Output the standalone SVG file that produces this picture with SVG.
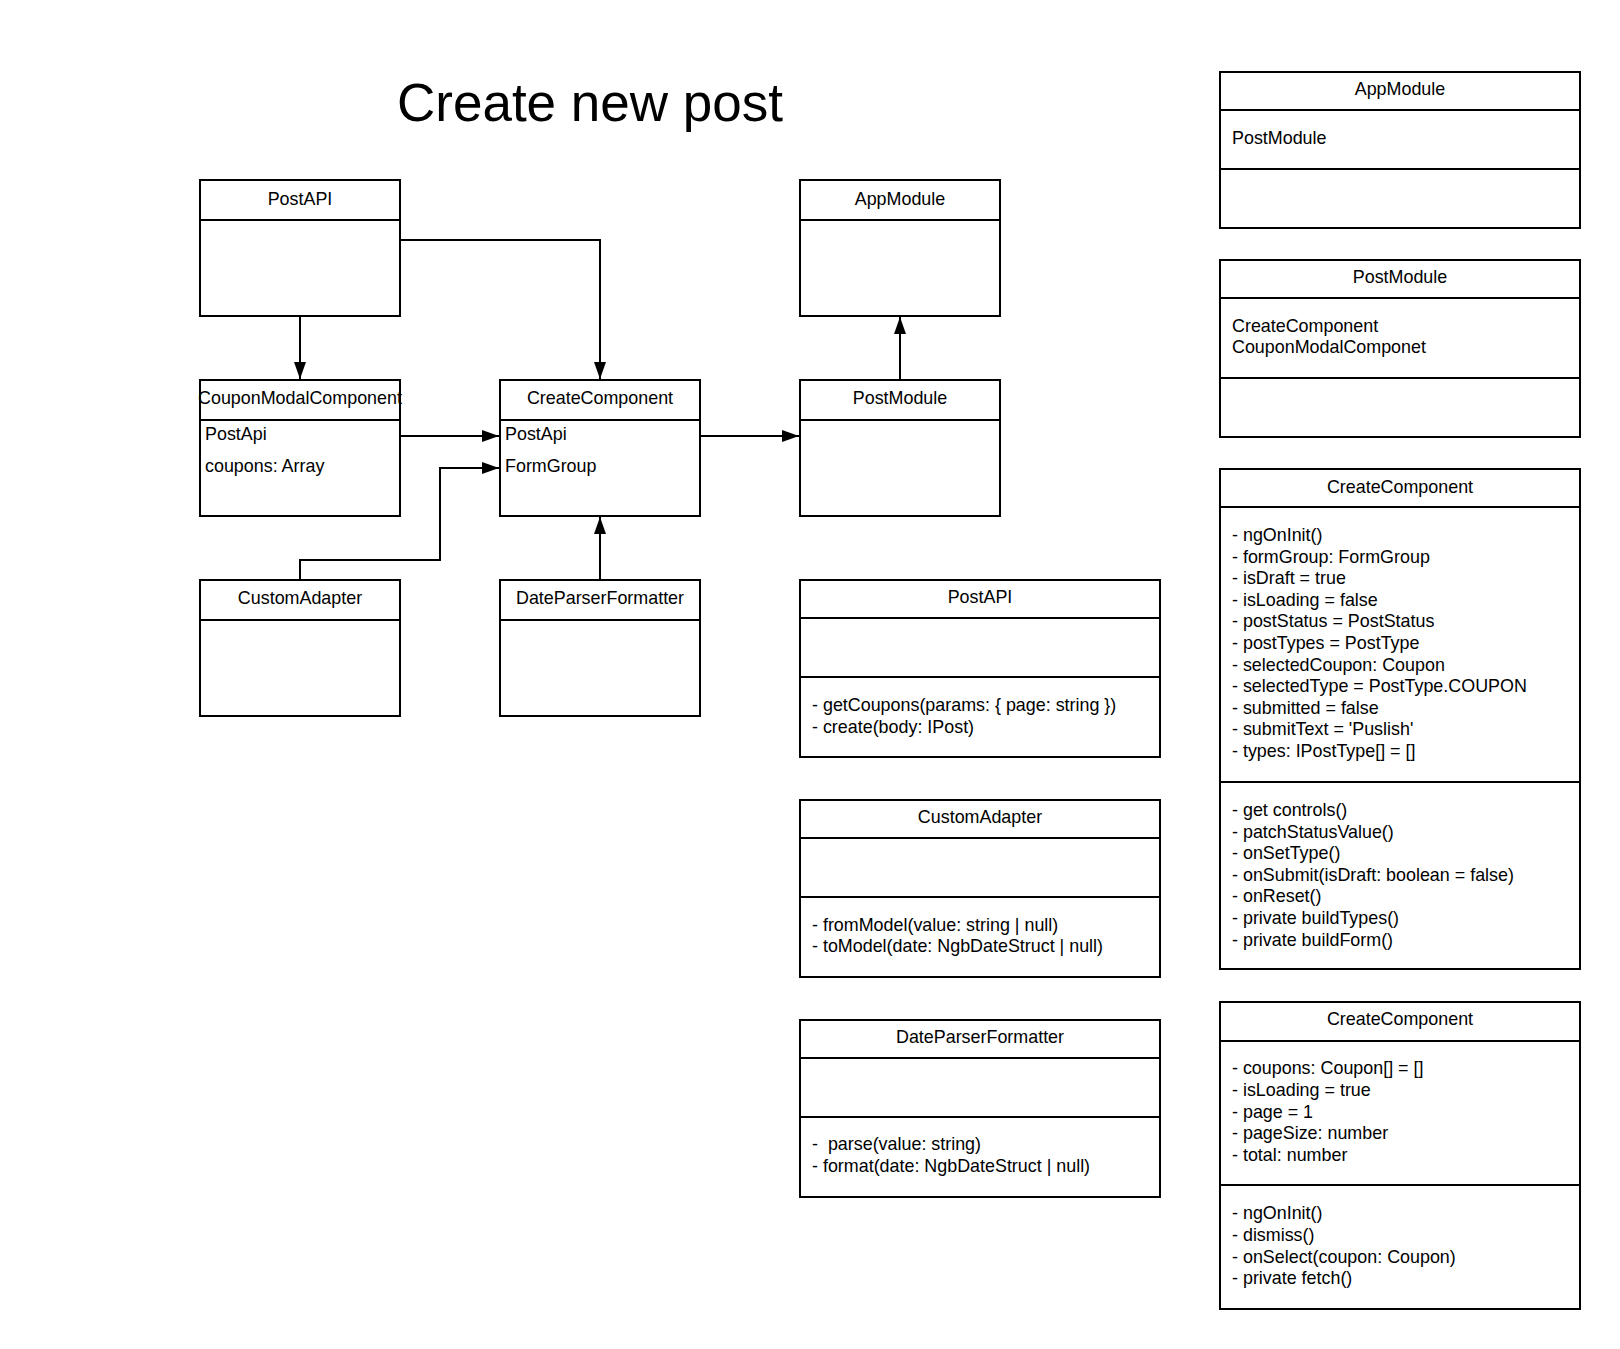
<svg xmlns="http://www.w3.org/2000/svg" width="1620" height="1349" viewBox="0 0 1620 1349">
<style>
.box{fill:#fff;stroke:#000;stroke-width:2}
.div{stroke:#000;stroke-width:2}
.t{font-family:"Liberation Sans",Arial,sans-serif;font-size:17.9px;fill:#000}
.c{text-anchor:middle}
.title{font-family:"Liberation Sans",Arial,sans-serif;font-size:53px;fill:#000}
.con{fill:none;stroke:#000;stroke-width:2}
</style>
<defs>
<marker id="arr" markerUnits="userSpaceOnUse" markerWidth="18" markerHeight="12" refX="17" refY="6" orient="auto">
<path d="M0,0 L17,6 L0,12 Z" fill="#000"/>
</marker>
</defs>
<rect width="1620" height="1349" fill="#fff"/>
<text class="title" x="397" y="121">Create new post</text>

<g id="connectors">
<path class="con" d="M300,316 V379" marker-end="url(#arr)"/>
<path class="con" d="M400,240 H600 V379" marker-end="url(#arr)"/>
<path class="con" d="M400,436 H499" marker-end="url(#arr)"/>
<path class="con" d="M300,580 V560 H440 V468 H499" marker-end="url(#arr)"/>
<path class="con" d="M600,580 V517" marker-end="url(#arr)"/>
<path class="con" d="M700,436 H799" marker-end="url(#arr)"/>
<path class="con" d="M900,380 V317" marker-end="url(#arr)"/>
</g>

<g id="postapi-left">
<rect class="box" x="200" y="180" width="200" height="136"/>
<line class="div" x1="200" y1="220" x2="400" y2="220"/>
<text class="t c" x="300" y="205">PostAPI</text>
</g>

<g id="couponmodal-left">
<rect class="box" x="200" y="380" width="200" height="136"/>
<line class="div" x1="200" y1="420" x2="400" y2="420"/>
<text class="t c" x="300" y="404">CouponModalComponent</text>
<text class="t" x="205" y="440">PostApi</text>
<text class="t" x="205" y="472">coupons: Array</text>
</g>

<g id="createcomponent-left">
<rect class="box" x="500" y="380" width="200" height="136"/>
<line class="div" x1="500" y1="420" x2="700" y2="420"/>
<text class="t c" x="600" y="404">CreateComponent</text>
<text class="t" x="505" y="440">PostApi</text>
<text class="t" x="505" y="472">FormGroup</text>
</g>

<g id="customadapter-left">
<rect class="box" x="200" y="580" width="200" height="136"/>
<line class="div" x1="200" y1="620" x2="400" y2="620"/>
<text class="t c" x="300" y="604">CustomAdapter</text>
</g>

<g id="dateparser-left">
<rect class="box" x="500" y="580" width="200" height="136"/>
<line class="div" x1="500" y1="620" x2="700" y2="620"/>
<text class="t c" x="600" y="604">DateParserFormatter</text>
</g>

<g id="appmodule-mid">
<rect class="box" x="800" y="180" width="200" height="136"/>
<line class="div" x1="800" y1="220" x2="1000" y2="220"/>
<text class="t c" x="900" y="205">AppModule</text>
</g>

<g id="postmodule-mid">
<rect class="box" x="800" y="380" width="200" height="136"/>
<line class="div" x1="800" y1="420" x2="1000" y2="420"/>
<text class="t c" x="900" y="404">PostModule</text>
</g>

<g id="postapi-detail">
<rect class="box" x="800" y="580" width="360" height="177"/>
<line class="div" x1="800" y1="618" x2="1160" y2="618"/>
<line class="div" x1="800" y1="677" x2="1160" y2="677"/>
<text class="t c" x="980" y="603">PostAPI</text>
<text class="t" x="812" y="711">- getCoupons(params: { page: string })</text>
<text class="t" x="812" y="732.6">- create(body: IPost)</text>
</g>

<g id="customadapter-detail">
<rect class="box" x="800" y="800" width="360" height="177"/>
<line class="div" x1="800" y1="838" x2="1160" y2="838"/>
<line class="div" x1="800" y1="897" x2="1160" y2="897"/>
<text class="t c" x="980" y="823">CustomAdapter</text>
<text class="t" x="812" y="930.5">- fromModel(value: string | null)</text>
<text class="t" x="812" y="952.1">- toModel(date: NgbDateStruct | null)</text>
</g>

<g id="dateparser-detail">
<rect class="box" x="800" y="1020" width="360" height="177"/>
<line class="div" x1="800" y1="1058" x2="1160" y2="1058"/>
<line class="div" x1="800" y1="1117" x2="1160" y2="1117"/>
<text class="t c" x="980" y="1043">DateParserFormatter</text>
<text class="t" x="812" y="1150" xml:space="preserve">-  parse(value: string)</text>
<text class="t" x="812" y="1171.6">- format(date: NgbDateStruct | null)</text>
</g>

<g id="appmodule-detail">
<rect class="box" x="1220" y="72" width="360" height="156"/>
<line class="div" x1="1220" y1="110" x2="1580" y2="110"/>
<line class="div" x1="1220" y1="169" x2="1580" y2="169"/>
<text class="t c" x="1400" y="95">AppModule</text>
<text class="t" x="1232" y="144">PostModule</text>
</g>

<g id="postmodule-detail">
<rect class="box" x="1220" y="260" width="360" height="177"/>
<line class="div" x1="1220" y1="298" x2="1580" y2="298"/>
<line class="div" x1="1220" y1="378" x2="1580" y2="378"/>
<text class="t c" x="1400" y="283">PostModule</text>
<text class="t" x="1232" y="331.5">CreateComponent</text>
<text class="t" x="1232" y="353.1">CouponModalComponet</text>
</g>

<g id="createcomponent-detail">
<rect class="box" x="1220" y="469" width="360" height="500"/>
<line class="div" x1="1220" y1="507" x2="1580" y2="507"/>
<line class="div" x1="1220" y1="782" x2="1580" y2="782"/>
<text class="t c" x="1400" y="492.5">CreateComponent</text>
<text class="t" x="1232" y="541">
<tspan x="1232" dy="0">- ngOnInit()</tspan>
<tspan x="1232" dy="21.6">- formGroup: FormGroup</tspan>
<tspan x="1232" dy="21.6">- isDraft = true</tspan>
<tspan x="1232" dy="21.6">- isLoading = false</tspan>
<tspan x="1232" dy="21.6">- postStatus = PostStatus</tspan>
<tspan x="1232" dy="21.6">- postTypes = PostType</tspan>
<tspan x="1232" dy="21.6">- selectedCoupon: Coupon</tspan>
<tspan x="1232" dy="21.6">- selectedType = PostType.COUPON</tspan>
<tspan x="1232" dy="21.6">- submitted = false</tspan>
<tspan x="1232" dy="21.6">- submitText = 'Puslish'</tspan>
<tspan x="1232" dy="21.6">- types: IPostType[] = []</tspan>
</text>
<text class="t" x="1232" y="816">
<tspan x="1232" dy="0">- get controls()</tspan>
<tspan x="1232" dy="21.6">- patchStatusValue()</tspan>
<tspan x="1232" dy="21.6">- onSetType()</tspan>
<tspan x="1232" dy="21.6">- onSubmit(isDraft: boolean = false)</tspan>
<tspan x="1232" dy="21.6">- onReset()</tspan>
<tspan x="1232" dy="21.6">- private buildTypes()</tspan>
<tspan x="1232" dy="21.6">- private buildForm()</tspan>
</text>
</g>

<g id="createcomponent-detail-2">
<rect class="box" x="1220" y="1002" width="360" height="307"/>
<line class="div" x1="1220" y1="1041" x2="1580" y2="1041"/>
<line class="div" x1="1220" y1="1185" x2="1580" y2="1185"/>
<text class="t c" x="1400" y="1025.3">CreateComponent</text>
<text class="t" x="1232" y="1074.3">
<tspan x="1232" dy="0">- coupons: Coupon[] = []</tspan>
<tspan x="1232" dy="21.6">- isLoading = true</tspan>
<tspan x="1232" dy="21.6">- page = 1</tspan>
<tspan x="1232" dy="21.6">- pageSize: number</tspan>
<tspan x="1232" dy="21.6">- total: number</tspan>
</text>
<text class="t" x="1232" y="1219.3">
<tspan x="1232" dy="0">- ngOnInit()</tspan>
<tspan x="1232" dy="21.6">- dismiss()</tspan>
<tspan x="1232" dy="21.6">- onSelect(coupon: Coupon)</tspan>
<tspan x="1232" dy="21.6">- private fetch()</tspan>
</text>
</g>
</svg>
